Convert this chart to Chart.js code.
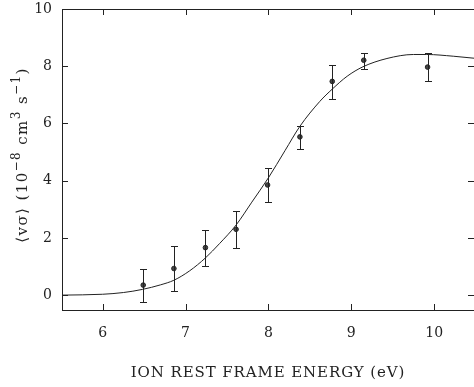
<!DOCTYPE html>
<html>
<head>
<meta charset="utf-8">
<script src="https://cdn.jsdelivr.net/npm/chart.js@4/dist/chart.umd.min.js"></script>
<style>
  html, body { margin: 0; padding: 0; background: #fff; }
</style>
</head>
<body>
<canvas id="Chart" width="474" height="387"></canvas>
<script>
// measured points with error bars
const energy  = [6.49, 6.86, 7.24, 7.61, 7.99, 8.38, 8.77, 9.15, 9.92];
const rate    = [0.35, 0.93, 1.66, 2.30, 3.85, 5.53, 7.47, 8.21, 7.97];
const errHigh = [0.93, 1.72, 2.28, 2.93, 4.46, 5.92, 8.06, 8.46, 8.46];
const errLow  = [-0.24, 0.14, 1.02, 1.65, 3.25, 5.12, 6.86, 7.92, 7.47];

// fitted curve
const fitEnergy = [5.51, 6.0, 6.25, 6.48, 6.7, 6.86, 7.05, 7.24, 7.41, 7.61, 7.8, 8.0, 8.2, 8.38, 8.62, 8.77, 8.95, 9.14, 9.43, 9.75, 9.91, 10.23, 10.48];
const fitRate   = [0.0, 0.03, 0.09, 0.2, 0.36, 0.52, 0.85, 1.30, 1.80, 2.45, 3.25, 4.10, 5.05, 5.90, 6.77, 7.20, 7.65, 7.98, 8.27, 8.41, 8.41, 8.35, 8.28];

const xTicks = [6, 7, 8, 9, 10];
const yTicks = [0, 2, 4, 6, 8, 10];

const xTitle = 'ION REST FRAME ENERGY (eV)';
// y title pieces: [text, superscript?]
const yTitle = [['⟨vσ⟩ (10', 0], ['−8', 1], [' cm', 0], ['3', 1], [' s', 0], ['−1', 1], [')', 0]];

const fontFam = "'DejaVu Serif', 'Liberation Serif', serif";
const ink = '#222';

let frame = {
    id: 'frame',
    afterDatasetsDraw(chart) {
        const ctx = chart.ctx;
        const a = chart.chartArea;
        const xs = chart.scales.x, ys = chart.scales.y;
        ctx.save();
        ctx.strokeStyle = ink;
        ctx.lineWidth = 1;
        ctx.strokeRect(a.left + 0.5, a.top + 0.5, a.right - a.left, a.bottom - a.top);
        ctx.beginPath();
        xTicks.forEach(v => {
            const px = Math.round(xs.getPixelForValue(v)) + 0.5;
            ctx.moveTo(px, a.bottom); ctx.lineTo(px, a.bottom - 6);
            ctx.moveTo(px, a.top); ctx.lineTo(px, a.top + 6);
        });
        yTicks.forEach(v => {
            const py = Math.round(ys.getPixelForValue(v)) + 0.5;
            ctx.moveTo(a.left, py); ctx.lineTo(a.left + 6, py);
            ctx.moveTo(a.right, py); ctx.lineTo(a.right - 6, py);
        });
        ctx.stroke();

        // error bars
        ctx.beginPath();
        energy.forEach((e, i) => {
            const px = Math.round(xs.getPixelForValue(e)) + 0.5;
            const hi = Math.round(ys.getPixelForValue(errHigh[i])) + 0.5;
            const lo = Math.round(ys.getPixelForValue(errLow[i])) + 0.5;
            ctx.moveTo(px, hi); ctx.lineTo(px, lo);
            ctx.moveTo(px - 3.5, hi); ctx.lineTo(px + 3.5, hi);
            ctx.moveTo(px - 3.5, lo); ctx.lineTo(px + 3.5, lo);
        });
        ctx.stroke();

        // tick labels
        ctx.fillStyle = ink;
        ctx.font = '14px ' + fontFam;
        ctx.textBaseline = 'middle';
        ctx.textAlign = 'center';
        xTicks.forEach(v => ctx.fillText(String(v), xs.getPixelForValue(v), a.bottom + 23));
        ctx.textAlign = 'right';
        yTicks.forEach(v => ctx.fillText(String(v), a.left - 10, ys.getPixelForValue(v)));

        // x title
        ctx.font = '15px ' + fontFam;
        ctx.letterSpacing = '0.9px';
        ctx.textAlign = 'center';
        ctx.fillText(xTitle, (a.left + a.right) / 2, 373);

        // y title, rotated, with raised exponents
        ctx.translate(22, 155);
        ctx.rotate(-Math.PI / 2);
        ctx.textAlign = 'left';
        ctx.textBaseline = 'alphabetic';
        ctx.letterSpacing = '1.4px';
        const fonts = ['15px ' + fontFam, '12px ' + fontFam];
        let total = 0;
        yTitle.forEach(p => { ctx.font = fonts[p[1]]; total += ctx.measureText(p[0]).width; });
        let cx = -total / 2;
        yTitle.forEach(p => {
            ctx.font = fonts[p[1]];
            ctx.fillText(p[0], cx, p[1] ? -2 : 5);
            cx += ctx.measureText(p[0]).width;
        });
        ctx.restore();
    }
};

let chartData = {
    type: 'scatter',
    data: {
        datasets: [
            {
                label: 'fit',
                data: fitEnergy.map((e, i) => ({x: e, y: fitRate[i]})),
                showLine: true,
                borderColor: ink,
                borderWidth: 1,
                pointRadius: 0,
                cubicInterpolationMode: 'monotone',
                fill: false
            },
            {
                label: 'measured',
                data: energy.map((e, i) => ({x: e, y: rate[i]})),
                pointRadius: 2.3,
                pointBackgroundColor: '#444',
                pointBorderColor: ink,
                pointBorderWidth: 1
            }
        ]
    },
    options: {
        responsive: false,
        animation: false,
        layout: { autoPadding: false, padding: { top: 9, right: 0, left: 0, bottom: 0 } },
        plugins: { legend: { display: false }, tooltip: { enabled: false } },
        scales: {
            x: {
                type: 'linear',
                min: 5.51, max: 10.48,
                afterBuildTicks: s => { s.ticks = xTicks.map(v => ({value: v})); },
                afterFit: s => { s.height = 77; },
                grid: { display: false, drawTicks: false },
                border: { display: false },
                ticks: { display: false }
            },
            y: {
                type: 'linear',
                min: -0.52, max: 10,
                afterBuildTicks: s => { s.ticks = yTicks.map(v => ({value: v})); },
                afterFit: s => { s.width = 62; },
                grid: { display: false, drawTicks: false },
                border: { display: false },
                ticks: { display: false }
            }
        }
    },
    plugins: [frame]
};

let presentdata = new Chart(document.getElementById('Chart'), chartData);
</script>
</body>
</html>
